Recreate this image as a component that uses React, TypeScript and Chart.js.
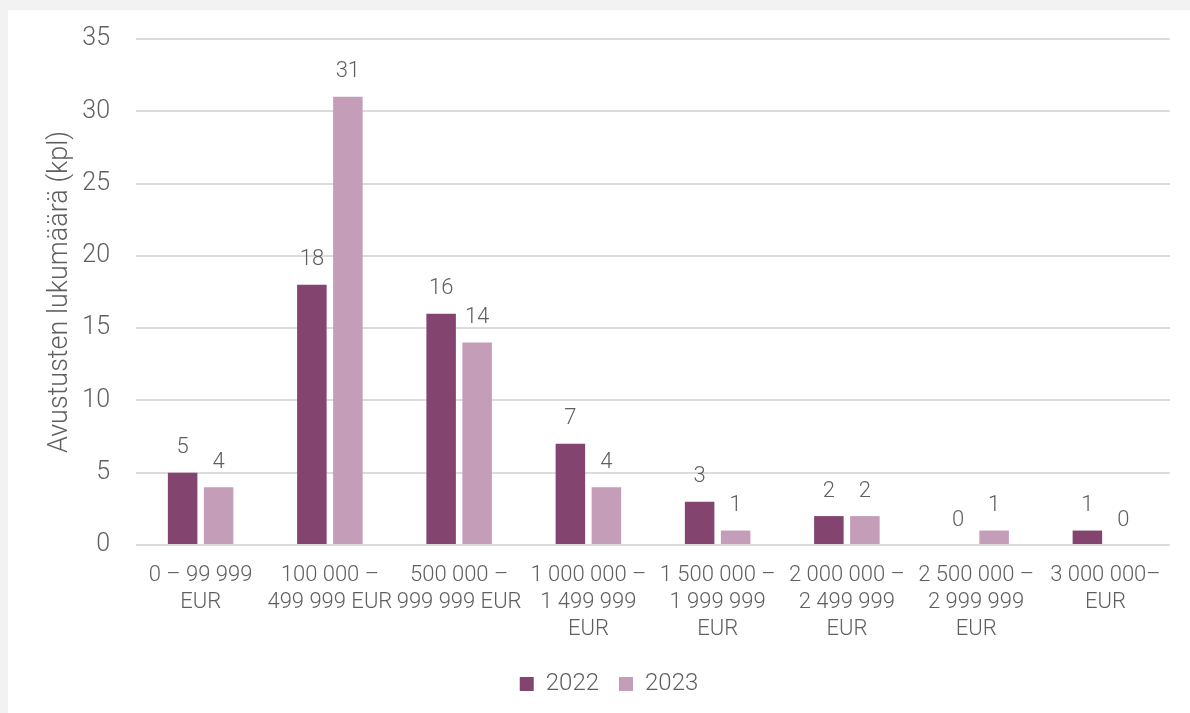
import React, { useEffect, useRef } from "react";
import { Chart, registerables } from "chart.js";

Chart.register(...registerables);

const categories: string[][] = [
  ["0 – 99 999", "EUR"],
  ["100 000 –", "499 999 EUR"],
  ["500 000 –", "999 999 EUR"],
  ["1 000 000 –", "1 499 999", "EUR"],
  ["1 500 000 –", "1 999 999", "EUR"],
  ["2 000 000 –", "2 499 999", "EUR"],
  ["2 500 000 –", "2 999 999", "EUR"],
  ["3 000 000–", "EUR"],
];
const values2022: number[] = [5, 18, 16, 7, 3, 2, 0, 1];
const values2023: number[] = [4, 31, 14, 4, 1, 2, 1, 0];
const seriesNames: string[] = ["2022", "2023"];
const yTitle = "Avustusten lukumäärä (kpl)";
const yMax = 35;
const yStep = 5;

const TEXT = "#5f5f5f";
const FONT = "Roboto, 'Noto Sans', sans-serif";

const valueLabels = {
  id: "valueLabels",
  afterDatasetsDraw(chart: any) {
    const ctx = chart.ctx;
    ctx.save();
    ctx.font = `300 22px ${FONT}`;
    ctx.fillStyle = TEXT;
    ctx.textAlign = "center";
    ctx.textBaseline = "middle";
    chart.data.datasets.forEach((ds: any, i: number) => {
      const meta = chart.getDatasetMeta(i);
      meta.data.forEach((el: any, j: number) => {
        ctx.fillText(String(ds.data[j]), el.x, el.y - 25);
      });
    });
    ctx.restore();
  },
};

const legendShift = {
  id: "legendShift",
  afterLayout(chart: any) {
    if (chart.legend) {
      chart.legend.left += 10;
      chart.legend.right += 10;
    }
  },
};

export default function App() {
  const ref = useRef<HTMLCanvasElement | null>(null);
  useEffect(() => {
    if (!ref.current) return;
    const chart = new Chart(ref.current, {
      type: "bar",
      data: {
        labels: categories,
        datasets: [
          {
            label: seriesNames[0],
            data: values2022,
            backgroundColor: "#834470",
            categoryPercentage: 0.557,
            barPercentage: 0.82,
          },
          {
            label: seriesNames[1],
            data: values2023,
            backgroundColor: "#c49db8",
            categoryPercentage: 0.557,
            barPercentage: 0.82,
          },
        ],
      },
      options: {
        animation: false,
        responsive: false,
        maintainAspectRatio: false,
        layout: { padding: { left: 20, right: 20, top: 29, bottom: 7 } },
        plugins: {
          tooltip: { enabled: false },
          legend: {
            position: "bottom",
            labels: {
              boxWidth: 14,
              boxHeight: 14,
              padding: 20,
              color: TEXT,
              font: { family: FONT, size: 24, weight: "300" },
            },
          },
        },
        scales: {
          x: {
            grid: { display: false },
            border: { display: false },
            ticks: {
              color: TEXT,
              font: { family: FONT, size: 22, weight: "300", lineHeight: 1.23 },
              padding: 9,
              autoSkip: false,
              maxRotation: 0,
              minRotation: 0,
            },
            afterFit: (s: any) => {
              s.height = 107;
              s.paddingLeft = 0;
              s.paddingRight = 0;
            },
          },
          y: {
            min: 0,
            max: yMax,
            ticks: {
              stepSize: yStep,
              color: TEXT,
              padding: 26,
              font: { family: FONT, size: 25, weight: "300" },
            },
            grid: { color: "#dcdcdc", lineWidth: 2, drawTicks: false },
            border: { display: false },
            title: {
              display: true,
              text: yTitle,
              color: TEXT,
              padding: { top: 16, bottom: 0 },
              font: { family: FONT, size: 27, weight: "300", lineHeight: 1.2 },
            },
            afterFit: (s: any) => {
              s.width = 108;
              s.paddingTop = 0;
              s.paddingBottom = 0;
            },
          },
        },
      },
      plugins: [valueLabels, legendShift],
    });
    return () => chart.destroy();
  }, []);

  return (
    <div style={{ position: "fixed", inset: 0, background: "#f2f2f2" }}>
      <div
        style={{
          position: "absolute",
          left: 8,
          top: 10,
          width: 1182,
          height: 703,
          background: "#ffffff",
        }}
      >
        <canvas ref={ref} width={1182} height={703} style={{ display: "block" }} />
      </div>
    </div>
  );
}
